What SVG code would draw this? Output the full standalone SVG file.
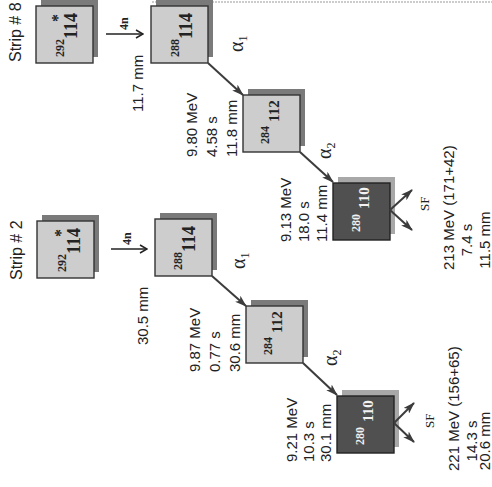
<svg xmlns="http://www.w3.org/2000/svg" width="492" height="487" viewBox="0 0 492 487">
<style>
.box{fill:#cdcdcd;stroke:#333;stroke-width:1.4}
.dbox{fill:#505050;stroke:#222;stroke-width:1.4}
.sh{fill:#7a7a7a}
.dsh{fill:#a8a8a8}
.lbl{font-family:"Liberation Sans",Arial,sans-serif;font-size:15px;fill:#222}
.big{font-size:16px}
.iso{font-family:"Liberation Serif","Times New Roman",serif;font-weight:bold;fill:#222}
.w{fill:#f2f2f2}
.m{font-size:12px}
.e4{font-size:18px}
.e2{font-size:15px}
.st{font-size:16px}
.al{font-family:"Liberation Serif","Times New Roman",serif;font-size:20px;fill:#222}
.sf{font-family:"Liberation Serif","Times New Roman",serif;font-size:13px;fill:#222}
.n4{font-family:"Liberation Serif","Times New Roman",serif;font-weight:bold;font-size:12px;fill:#222}
.c{stroke:#3c3c3c;stroke-width:2;fill:none}
.c4{stroke:#222;stroke-width:1.5;fill:none}
.mid{text-anchor:middle}
</style>
<defs>
<marker id="ah" viewBox="0 0 12 8" refX="11" refY="4" markerWidth="12" markerHeight="8" markerUnits="userSpaceOnUse" orient="auto"><path d="M0,0 L12,4 L0,8 L3,4 z" fill="#3c3c3c"/></marker>
<marker id="oa" viewBox="0 0 10 10" refX="9" refY="5" markerWidth="10" markerHeight="10" markerUnits="userSpaceOnUse" orient="auto"><path d="M2,1 L9,5 L2,9" fill="none" stroke="#222" stroke-width="1.5"/></marker>
</defs>
<rect width="492" height="487" fill="#fff"/>
<g transform="translate(0,487) rotate(-90)">
<line x1="485" y1="152" x2="485" y2="492" stroke="#999" stroke-width="1" stroke-dasharray="2 1"/>

<g id="strip8-292">
<rect class="sh" x="430" y="41" width="57" height="57"/>
<rect class="box" x="424" y="36" width="57" height="57"/>
<text class="iso m" x="430" y="64">292</text>
<text class="iso e4" x="448" y="77">114</text>
<text class="iso st" x="465" y="63">*</text>
</g>
<g id="strip8-288">
<rect class="sh" x="430" y="156" width="57" height="57"/>
<rect class="box" x="424" y="151" width="57" height="57"/>
<text class="iso m" x="430" y="179">288</text>
<text class="iso e4" x="448" y="192">114</text>
</g>
<g id="strip8-284">
<rect class="sh" x="341" y="248" width="57" height="57"/>
<rect class="box" x="335" y="243" width="57" height="57"/>
<text class="iso m" x="343" y="269">284</text>
<text class="iso e2" x="365" y="279">112</text>
</g>
<g id="strip8-280">
<rect class="dsh" x="253" y="338" width="57" height="57"/>
<rect class="dbox" x="247" y="333" width="57" height="57"/>
<text class="iso m w" x="255" y="360">280</text>
<text class="iso e2 w" x="278" y="369">110</text>
</g>

<g id="strip2-292">
<rect class="sh" x="215" y="42" width="57" height="57"/>
<rect class="box" x="209" y="37" width="57" height="57"/>
<text class="iso m" x="215" y="66">292</text>
<text class="iso e4" x="233" y="80">114</text>
<text class="iso st" x="250" y="66">*</text>
</g>
<g id="strip2-288">
<rect class="sh" x="217" y="160" width="57" height="57"/>
<rect class="box" x="211" y="155" width="57" height="57"/>
<text class="iso m" x="217" y="182">288</text>
<text class="iso e4" x="235" y="195">114</text>
</g>
<g id="strip2-284">
<rect class="sh" x="130" y="251" width="57" height="57"/>
<rect class="box" x="124" y="246" width="57" height="57"/>
<text class="iso m" x="132" y="272">284</text>
<text class="iso e2" x="154" y="282">112</text>
</g>
<g id="strip2-280">
<rect class="dsh" x="40" y="342" width="57" height="57"/>
<rect class="dbox" x="34" y="337" width="57" height="57"/>
<text class="iso m w" x="42" y="364">280</text>
<text class="iso e2 w" x="65" y="373">110</text>
</g>

<g id="connectors">
<path class="c4" d="M453,106 L453,143" marker-end="url(#oa)"/>
<path class="c4" d="M238,111 L238,147" marker-end="url(#oa)"/>
<path class="c" d="M424,208 L392,243" marker-end="url(#ah)"/>
<path class="c" d="M335,300 L305,333" marker-end="url(#ah)"/>
<path class="c" d="M211,212 L181,246" marker-end="url(#ah)"/>
<path class="c" d="M124,303 L92,337" marker-end="url(#ah)"/>
<path class="c" d="M277,390 L257,412" marker-end="url(#ah)"/>
<path class="c" d="M277,390 L297,412" marker-end="url(#ah)"/>
<path class="c" d="M64,394 L45,414" marker-end="url(#ah)"/>
<path class="c" d="M64,394 L84,414" marker-end="url(#ah)"/>
</g>

<g id="labels">
<text class="lbl big" x="425" y="21">Strip # 8</text>
<text class="lbl big" x="207" y="22">Strip # 2</text>
<text class="n4" x="457" y="128">4n</text>
<text class="n4" x="242" y="131">4n</text>
<text class="lbl" x="375" y="143">11.7 mm</text>
<text class="lbl" x="142" y="148">30.5 mm</text>
<text class="al" x="435" y="243">α<tspan font-size="12" dy="4">1</tspan></text>
<text class="al" x="218" y="245">α<tspan font-size="12" dy="4">1</tspan></text>
<text class="al" x="328" y="331">α<tspan font-size="12" dy="4">2</tspan></text>
<text class="al" x="121" y="337">α<tspan font-size="12" dy="4">2</tspan></text>
<text class="lbl" x="330" y="197">9.80 MeV</text>
<text class="lbl" x="330" y="217">4.58 s</text>
<text class="lbl" x="330" y="237">11.8 mm</text>
<text class="lbl" x="115" y="200">9.87 MeV</text>
<text class="lbl" x="115" y="220">0.77 s</text>
<text class="lbl" x="115" y="240">30.6 mm</text>
<text class="lbl" x="245" y="291">9.13 MeV</text>
<text class="lbl" x="245" y="309">18.0 s</text>
<text class="lbl" x="245" y="327">11.4 mm</text>
<text class="lbl" x="25" y="297">9.21 MeV</text>
<text class="lbl" x="25" y="314">10.3 s</text>
<text class="lbl" x="25" y="331">30.1 mm</text>
<text class="sf" x="276" y="429">SF</text>
<text class="sf" x="59" y="434">SF</text>
<text class="lbl" x="217" y="454">213 MeV (171+42)</text>
<text class="lbl mid" x="247" y="472">7.4 s</text>
<text class="lbl mid" x="247" y="490">11.5 mm</text>
<text class="lbl" x="16" y="459">221 MeV (156+65)</text>
<text class="lbl mid" x="46" y="477">14.3 s</text>
<text class="lbl mid" x="46" y="490">20.6 mm</text>
</g>
</g>
</svg>
